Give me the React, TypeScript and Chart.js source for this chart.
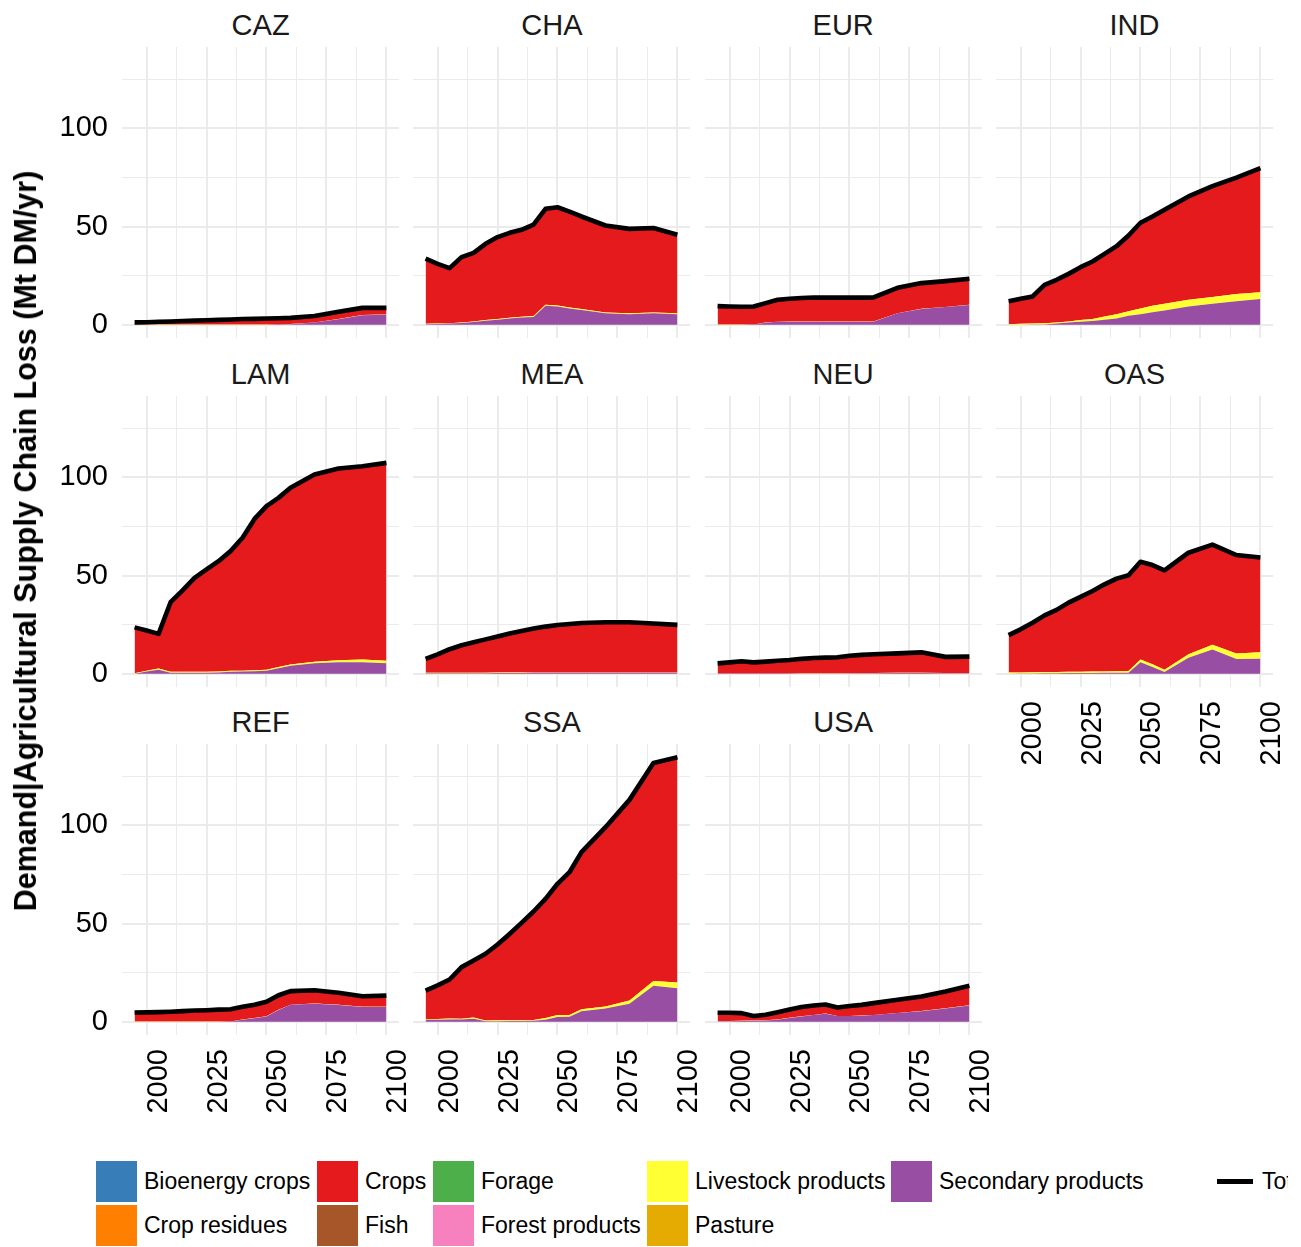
import React, { useEffect, useRef } from "react";
import { Chart, registerables } from "chart.js";

Chart.register(...registerables);

// Model time steps
const years = [1995, 2000, 2005, 2010, 2015, 2020, 2025, 2030, 2035, 2040, 2045, 2050, 2055, 2060, 2070, 2080, 2090, 2100];

// Categories (legend order) and their fill colours
const categories = [
  "Bioenergy crops",
  "Crop residues",
  "Crops",
  "Fish",
  "Forage",
  "Forest products",
  "Livestock products",
  "Pasture",
  "Secondary products",
];
const categoryColors = ["#377EB8", "#FF7F00", "#E41A1C", "#A65628", "#4DAF4A", "#F781BF", "#FFFF33", "#E6AB02", "#984EA3"];

const regionNames = ["CAZ", "CHA", "EUR", "IND", "LAM", "MEA", "NEU", "OAS", "REF", "SSA", "USA"];

// Supply chain losses, Mt DM/yr
const noLoss = [0, 0, 0, 0, 0, 0, 0, 0, 0, 0, 0, 0, 0, 0, 0, 0, 0, 0];

const cazCrops = [1.1, 1.2, 1.4, 1.6, 1.8, 2.0, 2.2, 2.4, 2.6, 2.8, 2.9, 3.1, 3.1, 3.1, 3.3, 3.7, 3.6, 3.4];
const cazLivestock = [0.1, 0.1, 0.1, 0.1, 0.1, 0.1, 0.1, 0.1, 0.1, 0.1, 0.1, 0.1, 0.1, 0.1, 0.1, 0.1, 0.1, 0.1];
const cazSecondary = [0, 0, 0, 0, 0, 0, 0, 0, 0, 0, 0, 0, 0.1, 0.3, 1.1, 2.8, 4.9, 5.1];
const cazTotal = [1.2, 1.3, 1.5, 1.7, 1.9, 2.1, 2.3, 2.5, 2.7, 2.9, 3.0, 3.2, 3.3, 3.5, 4.5, 6.6, 8.6, 8.6];

const chaCrops = [33.1, 30.4, 28.0, 33.2, 34.9, 38.8, 41.6, 43.2, 44.2, 46.6, 48.8, 50.0, 48.8, 47.1, 44.2, 42.9, 42.9, 40.0];
const chaLivestock = [0.2, 0.2, 0.2, 0.3, 0.3, 0.4, 0.4, 0.4, 0.4, 0.4, 0.5, 0.5, 0.5, 0.5, 0.5, 0.5, 0.5, 0.5];
const chaSecondary = [0.3, 0.4, 0.6, 0.9, 1.4, 2.0, 2.6, 3.2, 3.7, 4.0, 9.7, 9.3, 8.3, 7.5, 5.8, 5.4, 5.8, 5.3];
const chaTotal = [33.6, 31.0, 28.8, 34.4, 36.6, 41.2, 44.6, 46.8, 48.3, 51.0, 59.0, 59.8, 57.6, 55.1, 50.5, 48.8, 49.2, 45.8];

const eurCrops = [9.4, 9.2, 9.1, 9.1, 9.9, 11.1, 11.5, 11.9, 12.2, 12.1, 12.1, 12.2, 12.1, 12.2, 12.9, 13.1, 13.1, 13.2];
const eurLivestock = [0.1, 0.1, 0.1, 0.1, 0.1, 0.1, 0.1, 0.1, 0.1, 0.1, 0.1, 0.1, 0.1, 0.1, 0.1, 0.1, 0.1, 0.1];
const eurSecondary = [0, 0, 0, 0.1, 1.0, 1.5, 1.6, 1.6, 1.6, 1.6, 1.6, 1.6, 1.6, 1.6, 5.8, 8.0, 9.0, 10.1];
const eurTotal = [9.5, 9.3, 9.2, 9.3, 11.0, 12.7, 13.2, 13.6, 13.9, 13.8, 13.8, 13.9, 13.8, 13.9, 18.8, 21.2, 22.2, 23.4];

const indCrops = [11.7, 12.7, 13.7, 19.5, 21.7, 24.2, 26.9, 29.2, 31.9, 34.6, 38.5, 43.6, 45.4, 47.8, 52.6, 56.4, 59.3, 63.1];
const indLivestock = [0.3, 0.5, 0.6, 0.6, 0.6, 0.5, 0.9, 1.1, 1.7, 2.2, 2.3, 2.9, 3.3, 3.4, 3.4, 3.4, 3.6, 3.5];
const indSecondary = [0, 0, 0.1, 0.2, 0.6, 1.2, 1.5, 1.9, 2.5, 3.2, 4.6, 5.4, 6.4, 7.3, 9.3, 10.7, 12.0, 13.1];
const indTotal = [12.0, 13.2, 14.4, 20.3, 22.9, 25.9, 29.3, 32.2, 36.1, 40.0, 45.4, 51.9, 55.1, 58.5, 65.3, 70.5, 74.9, 79.7];

const lamCrops = [23.3, 20.5, 17.6, 35.4, 41.4, 47.8, 52.1, 56.1, 60.9, 67.6, 77.0, 83.3, 86.1, 89.9, 95.3, 97.5, 98.3, 100.7];
const lamLivestock = [0.3, 0.4, 0.6, 0.5, 0.5, 0.5, 0.5, 0.5, 0.5, 0.5, 0.5, 0.5, 0.6, 0.6, 0.8, 1.1, 1.4, 1.3];
const lamSecondary = [0, 1.1, 2.1, 0.5, 0.5, 0.5, 0.5, 0.7, 1.0, 1.1, 1.3, 1.5, 2.8, 4.1, 5.3, 5.8, 5.9, 5.3];
const lamTotal = [23.6, 22.0, 20.3, 36.4, 42.4, 48.8, 53.1, 57.3, 62.4, 69.2, 78.8, 85.3, 89.5, 94.6, 101.4, 104.4, 105.6, 107.3];

const meaCrops = [7.1, 9.4, 12.0, 14.0, 15.5, 17.0, 18.4, 19.9, 21.2, 22.3, 23.3, 24.1, 24.6, 25.1, 25.5, 25.5, 24.9, 24.2];
const meaLivestock = [0.2, 0.2, 0.2, 0.2, 0.2, 0.2, 0.2, 0.2, 0.2, 0.2, 0.2, 0.2, 0.2, 0.2, 0.2, 0.2, 0.2, 0.2];
const meaSecondary = [0.3, 0.3, 0.3, 0.3, 0.3, 0.3, 0.4, 0.4, 0.4, 0.5, 0.5, 0.5, 0.5, 0.5, 0.5, 0.5, 0.5, 0.5];
const meaTotal = [7.6, 9.9, 12.5, 14.5, 16.0, 17.5, 19.0, 20.5, 21.8, 23.0, 24.0, 24.8, 25.3, 25.8, 26.2, 26.2, 25.6, 24.9];

const neuCrops = [5.1, 5.6, 6.2, 5.6, 6.0, 6.4, 6.8, 7.3, 7.7, 7.9, 8.1, 8.8, 9.2, 9.5, 9.9, 10.4, 8.2, 8.3];
const neuLivestock = [0.1, 0.1, 0.1, 0.1, 0.1, 0.1, 0.1, 0.1, 0.1, 0.1, 0.1, 0.1, 0.1, 0.1, 0.1, 0.1, 0.1, 0.1];
const neuSecondary = [0.1, 0.1, 0.1, 0.1, 0.1, 0.1, 0.1, 0.2, 0.2, 0.2, 0.2, 0.3, 0.3, 0.3, 0.4, 0.4, 0.3, 0.3];
const neuTotal = [5.3, 5.8, 6.4, 5.8, 6.2, 6.6, 7.0, 7.6, 8.0, 8.2, 8.4, 9.2, 9.6, 9.9, 10.4, 10.9, 8.6, 8.7];

const oasCrops = [19.1, 21.9, 25.2, 28.8, 31.6, 35.2, 38.1, 41.0, 44.3, 47.1, 48.7, 49.8, 50.5, 50.5, 51.7, 50.9, 50.1, 48.3];
const oasLivestock = [0.6, 0.6, 0.6, 0.6, 0.6, 0.6, 0.6, 0.7, 0.7, 0.8, 0.9, 1.4, 1.3, 1.2, 1.7, 2.5, 2.8, 3.2];
const oasSecondary = [0, 0.1, 0.2, 0.3, 0.3, 0.4, 0.4, 0.4, 0.5, 0.5, 0.5, 5.8, 3.5, 0.9, 8.2, 12.3, 7.5, 7.7];
const oasTotal = [19.7, 22.6, 26.0, 29.7, 32.5, 36.2, 39.1, 42.1, 45.5, 48.4, 50.1, 57.0, 55.3, 52.6, 61.6, 65.7, 60.4, 59.2];

const refCrops = [4.6, 4.7, 4.8, 5.0, 5.3, 5.6, 5.8, 6.1, 6.2, 6.5, 6.8, 7.4, 7.4, 6.9, 6.7, 6.2, 5.4, 5.7];
const refLivestock = [0.1, 0.1, 0.1, 0.1, 0.1, 0.1, 0.1, 0.1, 0.1, 0.1, 0.1, 0.1, 0.1, 0.1, 0.1, 0.1, 0.1, 0.1];
const refSecondary = [0, 0, 0, 0, 0, 0, 0, 0, 0.1, 1.0, 1.8, 2.7, 6.0, 8.6, 9.2, 8.5, 7.5, 7.5];
const refTotal = [4.7, 4.8, 4.9, 5.1, 5.4, 5.7, 5.9, 6.2, 6.4, 7.6, 8.7, 10.2, 13.5, 15.6, 16.0, 14.8, 13.0, 13.3];

const ssaCrops = [14.5, 17.1, 19.8, 26.3, 29.0, 33.9, 38.5, 43.9, 49.5, 55.2, 60.6, 66.8, 72.7, 79.9, 91.2, 102.1, 110.9, 114.6];
const ssaLivestock = [0.4, 0.4, 0.5, 0.4, 0.6, 0.4, 0.5, 0.4, 0.4, 0.4, 0.9, 1.0, 0.9, 1.1, 1.0, 1.6, 2.5, 2.9];
const ssaSecondary = [1.0, 1.0, 1.2, 1.1, 1.6, 0.3, 0.3, 0.4, 0.4, 0.5, 1.0, 2.4, 2.5, 5.3, 6.8, 9.2, 18.3, 17.1];
const ssaTotal = [15.9, 18.5, 21.5, 27.8, 31.2, 34.6, 39.3, 44.7, 50.3, 56.1, 62.5, 70.2, 76.1, 86.3, 99.0, 112.9, 131.7, 134.6];

const usaCrops = [4.2, 4.2, 3.9, 2.3, 2.8, 3.8, 4.3, 4.7, 4.8, 4.6, 4.3, 5.0, 5.4, 6.0, 6.7, 7.4, 8.5, 9.9];
const usaLivestock = [0.1, 0.1, 0.1, 0.1, 0.1, 0.1, 0.1, 0.1, 0.1, 0.1, 0.1, 0.1, 0.1, 0.1, 0.1, 0.1, 0.1, 0.1];
const usaSecondary = [0.3, 0.3, 0.4, 0.5, 0.7, 1.0, 1.9, 2.7, 3.4, 4.1, 2.9, 2.9, 3.1, 3.4, 4.4, 5.4, 6.8, 8.3];
const usaTotal = [4.6, 4.6, 4.4, 2.9, 3.6, 4.9, 6.3, 7.5, 8.3, 8.8, 7.3, 8.0, 8.6, 9.5, 11.2, 12.9, 15.4, 18.3];

// Axis ticks: labelled majors, unlabelled minors between them
const xMajorTicks = [2000, 2025, 2050, 2075, 2100];
const xMinorTicks = [2012.5, 2037.5, 2062.5, 2087.5];
const yMajorTicks = [0, 50, 100];
const yMinorTicks = [25, 75, 125];

type RegionSeries = { crops: number[]; livestock: number[]; secondary: number[]; total: number[] };

const regionSeries: RegionSeries[] = [
  { crops: cazCrops, livestock: cazLivestock, secondary: cazSecondary, total: cazTotal },
  { crops: chaCrops, livestock: chaLivestock, secondary: chaSecondary, total: chaTotal },
  { crops: eurCrops, livestock: eurLivestock, secondary: eurSecondary, total: eurTotal },
  { crops: indCrops, livestock: indLivestock, secondary: indSecondary, total: indTotal },
  { crops: lamCrops, livestock: lamLivestock, secondary: lamSecondary, total: lamTotal },
  { crops: meaCrops, livestock: meaLivestock, secondary: meaSecondary, total: meaTotal },
  { crops: neuCrops, livestock: neuLivestock, secondary: neuSecondary, total: neuTotal },
  { crops: oasCrops, livestock: oasLivestock, secondary: oasSecondary, total: oasTotal },
  { crops: refCrops, livestock: refLivestock, secondary: refSecondary, total: refTotal },
  { crops: ssaCrops, livestock: ssaLivestock, secondary: ssaSecondary, total: ssaTotal },
  { crops: usaCrops, livestock: usaLivestock, secondary: usaSecondary, total: usaTotal },
];

function seriesFor(r: RegionSeries, category: string): number[] {
  if (category === "Crops") return r.crops;
  if (category === "Livestock products") return r.livestock;
  if (category === "Secondary products") return r.secondary;
  return noLoss;
}

// Shared scales with 5% expansion on each side
const yDataMax = Math.max(...regionSeries.map((r) => Math.max(...r.total)));
const Y_MIN = -0.05 * yDataMax;
const Y_MAX = 1.05 * yDataMax;
const xSpan = years[years.length - 1] - years[0];
const X_MIN = years[0] - 0.05 * xSpan;
const X_MAX = years[years.length - 1] + 0.05 * xSpan;

// Facet geometry (px)
const PANEL_X0 = 122.1;
const PANEL_DX = 291.3;
const PANEL_W = 277;
const PANEL_Y0 = 47.1;
const PANEL_DY = 348.5;
const PANEL_H = 291;

const FONT = '"Liberation Sans", Arial, Helvetica, sans-serif';
const GRID = "#EBEBEB";

function Panel({ index }: { index: number }) {
  const ref = useRef<HTMLCanvasElement>(null);
  const col = index % 4;
  const row = Math.floor(index / 4);
  const showY = col === 0;
  const showX = row === 2 || index === 7;
  const padL = showY ? 90 : 0;
  const padB = showX ? 100 : 0;
  const padR = showX ? 30 : 0;
  const panelLeft = Math.round(PANEL_X0 + col * PANEL_DX);
  const panelTop = Math.round(PANEL_Y0 + row * PANEL_DY);
  const width = padL + PANEL_W + padR;
  const height = PANEL_H + padB;

  useEffect(() => {
    const r = regionSeries[index];
    const stackOrder = [...categories].reverse();
    const areaSets = stackOrder.map((cat, k) => {
      const vals = seriesFor(r, cat);
      return {
        label: cat,
        data: years.map((yr, j) => ({ x: yr, y: vals[j] })),
        backgroundColor: categoryColors[categories.indexOf(cat)],
        borderColor: "rgba(0,0,0,0)",
        borderWidth: 0,
        fill: k === 0 ? "origin" : "-1",
        stack: "areas",
        order: 1,
        pointRadius: 0,
        tension: 0,
      };
    });
    const totalSet = {
      label: "Total",
      data: years.map((yr, j) => ({ x: yr, y: r.total[j] })),
      borderColor: "#000000",
      backgroundColor: "#000000",
      borderWidth: 4.6,
      borderJoinStyle: "round",
      fill: false,
      stack: "total",
      order: 0,
      pointRadius: 0,
      tension: 0,
    };

    const zeroPad = (s: any) => {
      s.paddingLeft = 0;
      s.paddingRight = 0;
      s.paddingTop = 0;
      s.paddingBottom = 0;
    };

    const chart = new Chart(ref.current as HTMLCanvasElement, {
      type: "line",
      data: { datasets: [...areaSets, totalSet] as any },
      options: {
        animation: false,
        responsive: false,
        maintainAspectRatio: false,
        devicePixelRatio: 1,
        layout: { padding: { left: 0, top: 0, bottom: 0, right: padR } },
        events: [],
        plugins: {
          legend: { display: false },
          tooltip: { enabled: false },
          title: { display: false },
        },
        scales: {
          x: {
            type: "linear",
            min: X_MIN,
            max: X_MAX,
            border: { display: false },
            grid: {
              color: GRID,
              drawTicks: false,
              lineWidth: (ctx: any) => (xMajorTicks.includes(ctx.tick?.value) ? 2 : 1),
            },
            afterBuildTicks: (s: any) => {
              s.ticks = [...xMajorTicks, ...xMinorTicks].sort((a, b) => a - b).map((v) => ({ value: v }));
            },
            ticks: {
              display: showX,
              autoSkip: false,
              minRotation: 90,
              maxRotation: 90,
              padding: 14,
              labelOffset: 12,
              color: "#000000",
              font: { family: FONT, size: 29 },
              callback: (v: any) => (xMajorTicks.includes(Number(v)) ? String(v) : ""),
            },
            afterFit: (s: any) => {
              s.height = padB;
              zeroPad(s);
            },
          },
          y: {
            type: "linear",
            stacked: true,
            min: Y_MIN,
            max: Y_MAX,
            border: { display: false },
            grid: {
              color: GRID,
              drawTicks: false,
              lineWidth: (ctx: any) => (yMajorTicks.includes(ctx.tick?.value) ? 2 : 1),
            },
            afterBuildTicks: (s: any) => {
              s.ticks = [...yMajorTicks, ...yMinorTicks].sort((a, b) => a - b).map((v) => ({ value: v }));
            },
            ticks: {
              display: showY,
              autoSkip: false,
              padding: 14,
              color: "#000000",
              font: { family: FONT, size: 29 },
              callback: (v: any) => (yMajorTicks.includes(Number(v)) ? String(v) : ""),
            },
            afterFit: (s: any) => {
              s.width = padL;
              zeroPad(s);
            },
          },
        },
      } as any,
    });
    return () => chart.destroy();
  }, [index]);

  const centerX = PANEL_X0 + col * PANEL_DX + PANEL_W / 2;
  return (
    <>
      <div
        style={{
          position: "absolute",
          left: centerX - 100,
          top: panelTop - 22 - 14.5,
          width: 200,
          textAlign: "center",
          fontSize: 29,
          lineHeight: "29px",
          color: "#1a1a1a",
          whiteSpace: "nowrap",
        }}
      >
        {regionNames[index]}
      </div>
      <canvas
        ref={ref}
        width={width}
        height={height}
        style={{ position: "absolute", left: panelLeft - padL, top: panelTop, width, height }}
      />
    </>
  );
}

// Legend layout: columns filled top to bottom
const legendKeyX = [96, 317, 433, 647, 891];
const legendTextX = [144, 365, 481, 695, 939];
const legendRowTop = [1161, 1205];
const KEY = 41;

function Legend() {
  const items = categories.map((cat, i) => {
    const c = Math.floor(i / 2);
    const rr = i % 2;
    const top = legendRowTop[rr];
    return (
      <React.Fragment key={cat}>
        <div style={{ position: "absolute", left: legendKeyX[c], top, width: KEY, height: KEY, background: categoryColors[i] }} />
        <div
          style={{
            position: "absolute",
            left: legendTextX[c],
            top: top + KEY / 2 - 11.5,
            fontSize: 23,
            lineHeight: "23px",
            color: "#000",
            whiteSpace: "nowrap",
          }}
        >
          {cat}
        </div>
      </React.Fragment>
    );
  });
  return (
    <>
      {items}
      <div style={{ position: "absolute", left: 1217, top: legendRowTop[0] + KEY / 2 - 2.5, width: 36, height: 5, background: "#000" }} />
      {/* the plot's right edge cuts the last legend label */}
      <div
        style={{
          position: "absolute",
          left: 1262,
          top: legendRowTop[0] + KEY / 2 - 11.5,
          width: 26,
          overflow: "hidden",
          fontSize: 23,
          lineHeight: "23px",
          color: "#000",
          whiteSpace: "nowrap",
        }}
      >
        Total
      </div>
    </>
  );
}

export default function App() {
  return (
    <div
      style={{
        position: "absolute",
        left: 0,
        top: 0,
        width: 1301,
        height: 1247,
        overflow: "hidden",
        background: "#ffffff",
        fontFamily: FONT,
      }}
    >
      {regionNames.map((_, i) => (
        <Panel key={i} index={i} />
      ))}
      <div
        style={{
          position: "absolute",
          left: 25,
          top: 541,
          transform: "translate(-50%, -50%) rotate(-90deg)",
          fontSize: 30.5,
          fontWeight: "bold",
          lineHeight: "30px",
          color: "#000",
          whiteSpace: "nowrap",
        }}
      >
        Demand|Agricultural Supply Chain Loss (Mt DM/yr)
      </div>
      <Legend />
    </div>
  );
}
